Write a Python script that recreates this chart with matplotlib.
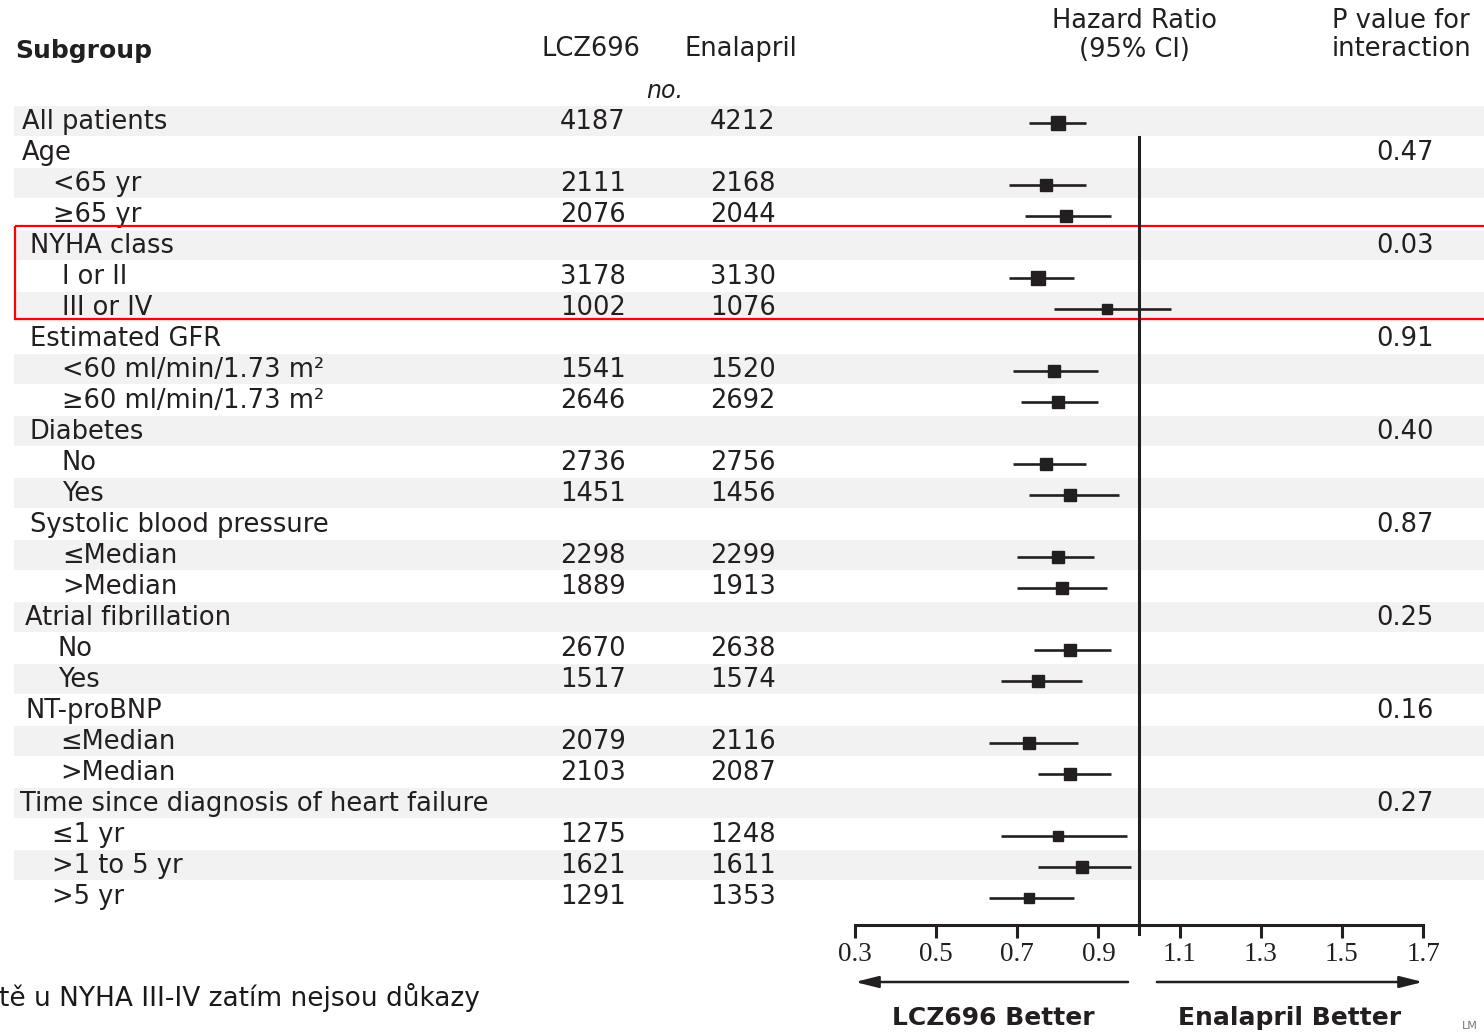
"""Forest plot of hazard ratios by subgroup (LCZ696 vs enalapril)."""

import matplotlib.pyplot as plt
from matplotlib.patches import Rectangle

# --- data -----------------------------------------------------------------
labels = [
    "All patients", "Age", "<65 yr", "≥65 yr",
    "NYHA class", "I or II", "III or IV",
    "Estimated GFR", "<60 ml/min/1.73 m²", "≥60 ml/min/1.73 m²",
    "Diabetes", "No", "Yes",
    "Systolic blood pressure", "≤Median", ">Median",
    "Atrial fibrillation", "No", "Yes",
    "NT-proBNP", "≤Median", ">Median",
    "Time since diagnosis of heart failure", "≤1 yr", ">1 to 5 yr", ">5 yr",
]
n_lcz = [4187, None, 2111, 2076, None, 3178, 1002, None, 1541, 2646, None, 2736, 1451,
         None, 2298, 1889, None, 2670, 1517, None, 2079, 2103, None, 1275, 1621, 1291]
n_ena = [4212, None, 2168, 2044, None, 3130, 1076, None, 1520, 2692, None, 2756, 1456,
         None, 2299, 1913, None, 2638, 1574, None, 2116, 2087, None, 1248, 1611, 1353]
hr = [0.80, None, 0.77, 0.82, None, 0.75, 0.92, None, 0.79, 0.80, None, 0.77, 0.83,
      None, 0.80, 0.81, None, 0.83, 0.75, None, 0.73, 0.83, None, 0.80, 0.86, 0.73]
ci_lo = [0.73, None, 0.68, 0.72, None, 0.68, 0.79, None, 0.69, 0.71, None, 0.69, 0.73,
         None, 0.70, 0.70, None, 0.74, 0.66, None, 0.63, 0.75, None, 0.66, 0.75, 0.63]
ci_hi = [0.87, None, 0.87, 0.93, None, 0.84, 1.08, None, 0.90, 0.90, None, 0.87, 0.95,
         None, 0.89, 0.92, None, 0.93, 0.86, None, 0.85, 0.93, None, 0.97, 0.98, 0.84]
p_interaction = {1: "0.47", 4: "0.03", 7: "0.91", 10: "0.40", 13: "0.87",
                 16: "0.25", 19: "0.16", 22: "0.27"}
hr_ticks = [0.3, 0.5, 0.7, 0.9, 1.1, 1.3, 1.5, 1.7]

# --- layout (figure pixels, y measured from the top) -----------------------
W, H = 1484, 1032
ROW0, ROW_STEP = 121, 31.0
label_x = [22, 22, 53, 53, 30, 62, 62, 30, 62, 62, 30, 62, 62, 30, 62, 62,
           25, 58, 58, 25, 60, 60, 20, 52, 52, 52]
AXIS_Y = 925
INK = "#231f20"
FONT = "DejaVu Sans"
BODY = 18.5


def row_y(i):
    return ROW0 + ROW_STEP * i


fig = plt.figure(figsize=(W / 100, H / 100), dpi=100)
fig.patch.set_facecolor("white")

tab = fig.add_axes([0, 0, 1, 1])
tab.set_xlim(0, W)
tab.set_ylim(H, 0)
tab.axis("off")

# alternating row shading
for i in range(0, len(labels), 2):
    tab.add_patch(Rectangle((14, row_y(i) - 15), W, 30, facecolor="#f2f2f2",
                            edgecolor="none", zorder=0))

# column headers
tab.text(15, 58, "Subgroup", fontsize=18, fontweight="bold", family=FONT, color=INK)
tab.text(591, 56, "LCZ696", fontsize=BODY, family=FONT, color=INK, ha="center")
tab.text(741, 56, "Enalapril", fontsize=BODY, family=FONT, color=INK, ha="center")
tab.text(665, 98, "no.", fontsize=17, family=FONT, style="italic", color=INK, ha="center")
tab.text(1134, 28, "Hazard Ratio", fontsize=BODY, family=FONT, color=INK, ha="center")
tab.text(1134, 57, "(95% CI)", fontsize=BODY, family=FONT, color=INK, ha="center")
tab.text(1401, 28, "P value for", fontsize=BODY, family=FONT, color=INK, ha="center")
tab.text(1401, 56, "interaction", fontsize=BODY, family=FONT, color=INK, ha="center")

# row labels, counts and interaction p values
for i, name in enumerate(labels):
    base = row_y(i) + 8
    tab.text(label_x[i], base, name, fontsize=BODY, family=FONT, color=INK)
    if n_lcz[i] is not None:
        tab.text(593, base, f"{n_lcz[i]}", fontsize=BODY, family=FONT, color=INK, ha="center")
        tab.text(743, base, f"{n_ena[i]}", fontsize=BODY, family=FONT, color=INK, ha="center")
    if i in p_interaction:
        tab.text(1405, base, p_interaction[i], fontsize=BODY, family=FONT, color=INK,
                 ha="center")

# highlight box around the NYHA class rows
tab.add_patch(Rectangle((15, 226), 1500, 93, facecolor="none", edgecolor="#ff0000",
                        linewidth=1.6, zorder=5, clip_on=False))

# caption fragment at the bottom left
tab.text(-1, 1006, "tě u NYHA III-IV zatím nejsou důkazy", fontsize=19,
         family="DejaVu Sans", color="#1a1a1a")
tab.text(1462, 1029, "LM", fontsize=8, family="DejaVu Sans", color="#777777")

# --- forest panel -----------------------------------------------------------
ax = fig.add_axes([855 / W, 1 - AXIS_Y / H, (1423 - 855) / W, AXIS_Y / H])
ax.set_xlim(0.3, 1.7)
ax.set_ylim(AXIS_Y, 0)
ax.patch.set_alpha(0)
for side in ("top", "left", "right"):
    ax.spines[side].set_visible(False)
ax.spines["bottom"].set_linewidth(2.2)
ax.spines["bottom"].set_color(INK)
ax.set_yticks([])
ax.set_xticks(hr_ticks)
ax.set_xticklabels([f"{t:.1f}" for t in hr_ticks], family="Liberation Serif",
                   fontsize=19.5, color=INK)
ax.tick_params(axis="x", direction="out", length=9, width=2.2, color=INK, pad=3)

# square size grows with the number of patients in the subgroup
total_max = n_lcz[0] + n_ena[0]
for i in range(len(labels)):
    if hr[i] is None:
        continue
    y = row_y(i) + 2
    ax.plot([ci_lo[i], ci_hi[i]], [y, y], color=INK, linewidth=1.9, solid_capstyle="butt",
            zorder=3)
    side_px = 7 + 7 * ((n_lcz[i] + n_ena[i]) / total_max) ** 0.5
    ax.plot(hr[i], y, marker="s", markersize=side_px * 0.72, color=INK, zorder=4)

ax.plot([1.0, 1.0], [137, AXIS_Y + 9], color=INK, linewidth=2.2, clip_on=False, zorder=2)

# direction arrows and labels below the axis
arrow = dict(arrowstyle="-|>,head_length=1.4,head_width=0.35", color=INK, linewidth=1.8,
             shrinkA=0, shrinkB=0)
ax.annotate("", xy=(0.3, H - 982), xytext=(0.973, H - 982),
            xycoords=("data", "figure pixels"), arrowprops=arrow)
ax.annotate("", xy=(1.7, H - 982), xytext=(1.044, H - 982),
            xycoords=("data", "figure pixels"), arrowprops=arrow)
ax.annotate("LCZ696 Better", xy=(0.64, H - 1025), xycoords=("data", "figure pixels"),
            ha="center", va="baseline", fontsize=18, fontweight="bold", family=FONT,
            color=INK, annotation_clip=False)
ax.annotate("Enalapril Better", xy=(1.372, H - 1025), xycoords=("data", "figure pixels"),
            ha="center", va="baseline", fontsize=18, fontweight="bold", family=FONT,
            color=INK, annotation_clip=False)

fig.savefig("out.png", dpi=100)
